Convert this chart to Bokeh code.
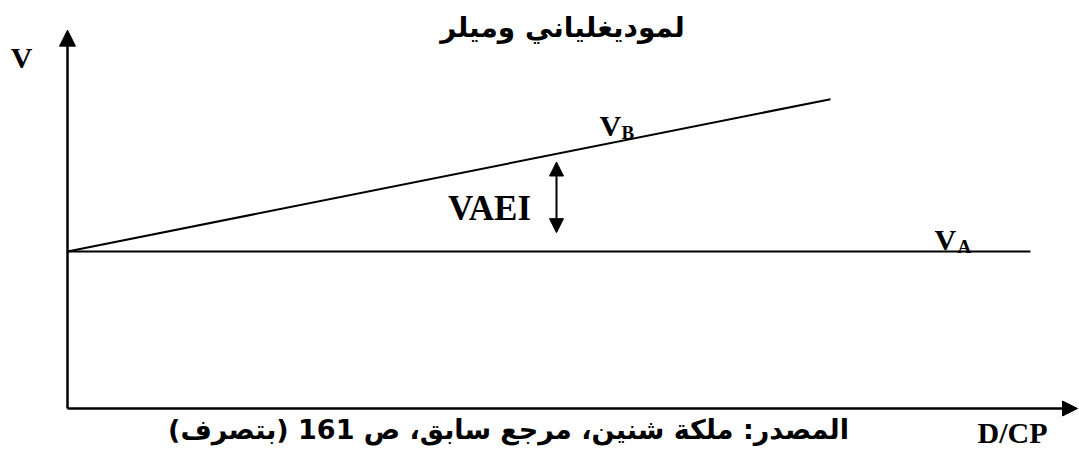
from bokeh.plotting import figure
from bokeh.models import Range1d, Arrow, NormalHead, Label
from bokeh.embed import file_html
from bokeh.resources import INLINE

# ---- data (abstract units) ----
d_cp_b = [0.0, 7.63]          # V_B line, x (D/CP)
v_b = [1.0, 1.97]             # V_B line, y (V)
d_cp_a = [0.0, 9.63]          # V_A line, x
v_a = [1.0, 1.0]              # V_A line, y
vaei_x = [4.89]               # VAEI double arrow position
vaei_low = [1.12]
vaei_high = [1.57]
axis_x_max = 10.1
axis_y_max = 2.41

title_text = "لموديغلياني وميلر"
source_text = "المصدر: ملكة شنين، مرجع سابق، ص 161 (بتصرف)"
x_label = "D/CP"
y_label = "V"

# pixel helpers (origin at page (67,408); 100 px per x unit, 157 px per y unit)
SX, SY = 100.0, 157.0
def px(xp):
    return (xp - 67) / SX
def py(yp):
    return (408 - yp) / SY

W, H = 1079, 450
p = figure(width=W, height=H, output_backend="svg", toolbar_location=None,
           x_range=Range1d(px(0), px(W)), y_range=Range1d(py(H), py(0)),
           min_border=0, outline_line_color=None)
p.axis.visible = False
p.grid.visible = False
p.background_fill_color = "white"

# value lines
p.line(d_cp_a, v_a, line_color="black", line_width=2)
p.line(d_cp_b, v_b, line_color="black", line_width=2)

# axes as arrows
p.add_layout(Arrow(end=NormalHead(size=16, fill_color="black", line_color="black"),
                   x_start=0, y_start=0, x_end=0, y_end=axis_y_max,
                   line_width=2.5, line_color="black"))
p.add_layout(Arrow(end=NormalHead(size=15, fill_color="black", line_color="black"),
                   x_start=0, y_start=0, x_end=axis_x_max, y_end=0,
                   line_width=2.5, line_color="black"))

# VAEI double arrow
p.add_layout(Arrow(start=NormalHead(size=14, fill_color="black", line_color="black"),
                   end=NormalHead(size=14, fill_color="black", line_color="black"),
                   x_start=vaei_x[0], y_start=vaei_low[0], x_end=vaei_x[0], y_end=vaei_high[0],
                   line_width=2, line_color="black"))

serif = "Liberation Serif"
def lab(text, xp, yp, size, font=serif, align="left", baseline="alphabetic"):
    p.add_layout(Label(x=px(xp), y=py(yp), text=text, text_font=font,
                       text_font_size=f"{size}px", text_font_style="bold",
                       text_color="black", text_align=align, text_baseline=baseline))

# texts
lab(title_text, 562, 27, 28, font="DejaVu Sans", align="center")
lab(y_label, 21, 57, 30, align="center")
lab("VAEI", 489, 208, 35, align="center")
lab("V", 599, 125, 30)
lab("B", 621, 132, 19)
lab("V", 934, 239, 30)
lab("A", 957, 246, 19)
lab(x_label, 1012, 432, 30, align="center")
lab(source_text, 508, 429, 27, font="DejaVu Sans", align="center")

open("out.html", "w").write(file_html(p, INLINE))
